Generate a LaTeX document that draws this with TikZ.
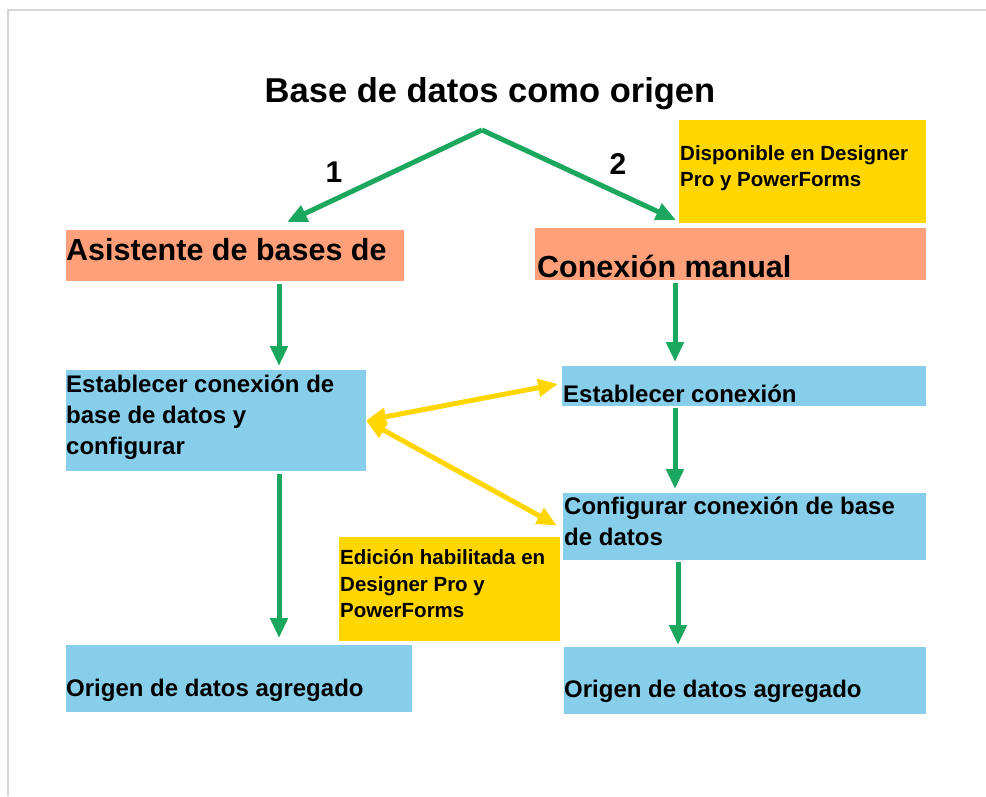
\documentclass[tikz,border=0pt]{standalone}
\usepackage{fontspec}
\setmainfont{Liberation Sans}
\usetikzlibrary{arrows.meta,positioning,calc}
\definecolor{FlowGreen}{RGB}{27,168,94}
\definecolor{NoteYellow}{RGB}{255,214,0}
\definecolor{HeadOrange}{RGB}{255,160,122}
\definecolor{StepBlue}{RGB}{135,206,235}
\definecolor{FrameGray}{RGB}{215,215,215}

\begin{document}
\begin{tikzpicture}[x=1pt,y=-1pt,
  box/.style={anchor=north west,inner sep=0pt,outer sep=0pt},
  txt/.style={anchor=west,inner sep=0pt,align=left,font=\bfseries\fontsize{24}{31}\selectfont},
  note/.style={txt,font=\bfseries\fontsize{20.5}{26.5}\selectfont},
  head/.style={txt,font=\bfseries\fontsize{30.5}{36}\selectfont},
  flow/.style={draw=FlowGreen,line width=5pt,-{Triangle[length=20pt,width=17pt]}},
  link/.style={draw=NoteYellow,line width=5pt,{Triangle[length=20pt,width=17pt]}-{Triangle[length=20pt,width=17pt]}}]
\useasboundingbox (0,0) rectangle (986,796);
\draw[FrameGray,line width=1.5pt] (8,796) -- (8,10) -- (986,10);

% title and branch numbers
\node[font=\bfseries\fontsize{34.5}{42}\selectfont] (title) at (490,94) {Base de datos como origen};
\node[font=\bfseries\fontsize{30}{36}\selectfont] (one) at (334,172) {1};
\node[font=\bfseries\fontsize{30}{36}\selectfont] (two) at (618,164) {2};

% boxes
\node[box,fill=NoteYellow,minimum width=247pt,minimum height=103pt] (avail) at (679,120) {};
\node[box,fill=HeadOrange,minimum width=338pt,minimum height=51pt] (asis) at (66,230) {};
\node[box,fill=HeadOrange,minimum width=391pt,minimum height=52pt] (manual) at (535,228) {};
\node[box,fill=StepBlue,minimum width=300pt,minimum height=101pt] (setup) at (66,370) {};
\node[box,fill=StepBlue,minimum width=364pt,minimum height=40pt] (connect) at (562,366) {};
\node[box,fill=StepBlue,minimum width=363pt,minimum height=67pt] (config) at (563,493) {};
\node[box,fill=NoteYellow,minimum width=221pt,minimum height=104pt] (edit) at (339,537) {};
\node[box,fill=StepBlue,minimum width=346pt,minimum height=67pt] (addL) at (66,645) {};
\node[box,fill=StepBlue,minimum width=362pt,minimum height=67pt] (addR) at (564,647) {};

% texts
\node[note] (availtxt) at (680,168) {Disponible en Designer\\Pro y PowerForms};
\node[head] (asistxt) at (66,250) {Asistente de bases de};
\node[head] (manualtxt) at (537,266) {Conexión manual};
\node[txt] (setuptxt) at (66,417) {Establecer conexión de\\base de datos y\\configurar};
\node[txt] (connecttxt) at (563,394) {Establecer conexión};
\node[txt] (configtxt) at (564,521) {Configurar conexión de base\\de datos};
\node[note] (edittxt) at (340,584) {Edición habilitada en\\Designer Pro y\\PowerForms};
\node[txt] (addLtxt) at (66,690) {Origen de datos agregado};
\node[txt] (addRtxt) at (564,691) {Origen de datos agregado};

% green flow
\coordinate (apex) at (482,130);
\draw[flow] (apex) -- ($(asis.north west)+(221,-8)$);
\draw[flow] (apex) -- ($(avail.south west)+(-3,-3)$);
\draw[flow] ($(asis.south west)+(213,3)$) -- ($(setup.north west)+(213,-4)$);
\draw[flow] ($(setup.south west)+(213,3)$) -- ($(addL.north west)+(213,-7)$);
\draw[flow] ($(manual.south west)+(140,3)$) -- ($(connect.north west)+(113,-4)$);
\draw[flow] ($(connect.south west)+(113,2)$) -- ($(config.north west)+(112,-4)$);
\draw[flow] ($(config.south west)+(115,2)$) -- ($(addR.north west)+(114,-2)$);

% yellow links
\draw[link] (setup.east) -- ($(connect.west)+(-4,-2)$);
\draw[link] (setup.east) -- ($(config.west)+(-6,-1)$);
\end{tikzpicture}
\end{document}
